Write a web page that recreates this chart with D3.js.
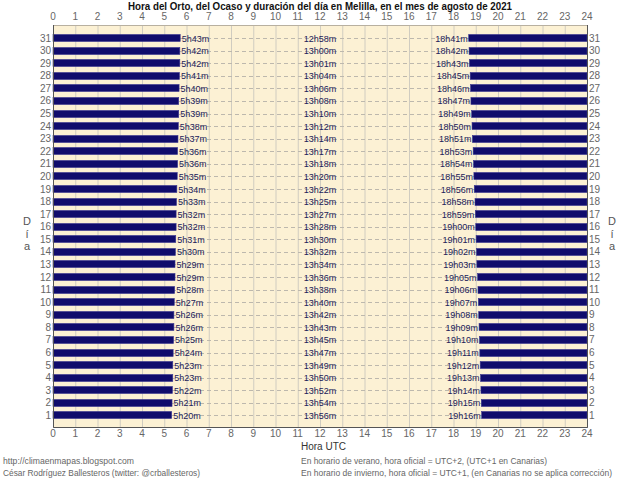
<!DOCTYPE html>
<html>
<head>
<meta charset="utf-8">
<script src="https://cdn.jsdelivr.net/npm/d3@7"></script>
<style>
  body { margin: 0; background: #fff; }
  text { font-family: "Liberation Sans", Arial, sans-serif; }
</style>
</head>
<body>
<svg id="chart"></svg>
<script>
// day 1..31 of August 2021, Melilla
const days = d3.range(1, 32);
const orto = ["5h20m","5h21m","5h22m","5h23m","5h23m","5h24m","5h25m","5h26m","5h26m","5h27m",
  "5h28m","5h29m","5h29m","5h30m","5h31m","5h32m","5h32m","5h33m","5h34m","5h35m",
  "5h36m","5h36m","5h37m","5h38m","5h39m","5h39m","5h40m","5h41m","5h42m","5h42m","5h43m"];
const duracion = ["13h56m","13h54m","13h52m","13h50m","13h49m","13h47m","13h45m","13h43m","13h42m","13h40m",
  "13h38m","13h36m","13h34m","13h32m","13h30m","13h28m","13h27m","13h25m","13h22m","13h20m",
  "13h18m","13h17m","13h14m","13h12m","13h10m","13h08m","13h06m","13h04m","13h01m","13h00m","12h58m"];
const ocaso = ["19h16m","19h15m","19h14m","19h13m","19h12m","19h11m","19h10m","19h09m","19h08m","19h07m",
  "19h06m","19h05m","19h03m","19h02m","19h01m","19h00m","18h59m","18h58m","18h56m","18h55m",
  "18h54m","18h53m","18h51m","18h50m","18h49m","18h47m","18h46m","18h45m","18h43m","18h42m","18h41m"];
const hourTicks = d3.range(0, 25);

const toHours = s => { const m = s.match(/(\d+)h(\d+)m/); return +m[1] + +m[2] / 60; };

const width = 640, height = 479;
const pl = 53, pr = 587, pt = 25, pb = 427;

const svg = d3.select("#chart").attr("width", width).attr("height", height);

const x = d3.scaleLinear().domain([0, 24]).range([pl, pr]);
const y = d3.scaleLinear().domain([0, 32]).range([pb + 1, pt + 0.5]);

const navy = "#100c6c";
const labelColor = "#22225a";
const tickColor = "#666";

// plot background
svg.append("rect")
  .attr("x", pl).attr("y", pt)
  .attr("width", pr - pl).attr("height", pb - pt)
  .attr("fill", "#fcf1d4");

// vertical grid
svg.append("g").selectAll("line").data(hourTicks.slice(1, -1)).join("line")
  .attr("x1", d => x(d) + 0.5).attr("x2", d => x(d) + 0.5)
  .attr("y1", pt).attr("y2", pb)
  .attr("stroke", "#d0ccc0").attr("stroke-width", 1);

// horizontal dashed grid
svg.append("g").selectAll("line").data(days).join("line")
  .attr("x1", pl).attr("x2", pr)
  .attr("y1", d => Math.round(y(d)) + 0.5).attr("y2", d => Math.round(y(d)) + 0.5)
  .attr("stroke", "#bdb8ad").attr("stroke-dasharray", "4,3");

const rows = days.map((d, i) => ({
  day: d, orto: orto[i], dur: duracion[i], ocaso: ocaso[i],
  sr: toHours(orto[i]), ss: toHours(ocaso[i])
}));

const barH = 7;
// sunrise bars (from 0 to orto)
svg.append("g").selectAll("rect").data(rows).join("rect")
  .attr("x", x(0)).attr("y", d => Math.round(y(d.day)) - barH / 2)
  .attr("width", d => x(d.sr) - x(0)).attr("height", barH)
  .attr("fill", navy).attr("stroke", "#3a3690").attr("stroke-width", 0.6);
// sunset bars (from ocaso to 24)
svg.append("g").selectAll("rect").data(rows).join("rect")
  .attr("x", d => x(d.ss)).attr("y", d => Math.round(y(d.day)) - barH / 2)
  .attr("width", d => x(24) - x(d.ss)).attr("height", barH)
  .attr("fill", navy).attr("stroke", "#3a3690").attr("stroke-width", 0.6);

const fs = "9px";
const labels = svg.append("g").attr("font-size", fs).attr("fill", labelColor);
labels.selectAll(".sr").data(rows).join("text")
  .attr("x", d => x(d.sr) + 1.5).attr("y", d => y(d.day) + 3.5)
  .text(d => d.orto);
labels.selectAll(".du").data(rows).join("text")
  .attr("x", x(12)).attr("y", d => y(d.day) + 3.5)
  .attr("text-anchor", "middle")
  .text(d => d.dur);
labels.selectAll(".ss").data(rows).join("text")
  .attr("x", d => x(d.ss) - 1).attr("y", d => y(d.day) + 3.5)
  .attr("text-anchor", "end")
  .text(d => d.ocaso);

// frame
svg.append("rect")
  .attr("x", pl + 0.5).attr("y", pt + 0.5)
  .attr("width", pr - pl).attr("height", pb - pt)
  .attr("fill", "none").attr("stroke", "#b8b0a0");
svg.append("path")
  .attr("d", `M${pl + 0.5},${pt} V${pb + 0.5} H${pr + 0.5} V${pt}`)
  .attr("fill", "none").attr("stroke", "#555");

// hour tick labels top & bottom
const axisG = svg.append("g").attr("font-size", "10px").attr("fill", tickColor).attr("text-anchor", "middle");
axisG.selectAll(".t").data(hourTicks).join("text")
  .attr("x", d => x(d)).attr("y", 20).text(d => d);
axisG.selectAll(".b").data(hourTicks).join("text")
  .attr("x", d => x(d)).attr("y", 437).text(d => d);

// day labels left & right
const dayG = svg.append("g").attr("font-size", "10px").attr("fill", tickColor);
dayG.selectAll(".l").data(days).join("text")
  .attr("x", 51).attr("y", d => y(d) + 3.5).attr("text-anchor", "end").text(d => d);
dayG.selectAll(".r").data(days).join("text")
  .attr("x", 589).attr("y", d => y(d) + 3.5).text(d => d);

// "Día" stacked letters
const diaLetters = ["D", "í", "a"];
[27, 612].forEach(cx => {
  svg.append("g").attr("font-size", "11px").attr("fill", "#555").attr("text-anchor", "middle")
    .selectAll("text").data(diaLetters).join("text")
    .attr("x", cx).attr("y", (d, i) => 225 + i * 12.5).text(d => d);
});

// title
svg.append("text")
  .attr("x", 128).attr("y", 10)
  .attr("font-size", "10px").attr("font-weight", "bold").attr("fill", "#111")
  .attr("textLength", 384).attr("lengthAdjust", "spacingAndGlyphs")
  .text("Hora del Orto, del Ocaso y duración del día en Melilla, en el mes de agosto de 2021");

// footer
svg.append("text").attr("x", 301).attr("y", 450)
  .attr("font-size", "10px").attr("fill", "#333").text("Hora UTC");
const foot = svg.append("g").attr("font-size", "9px").attr("fill", "#666");
foot.append("text").attr("x", 301).attr("y", 464)
  .attr("textLength", 246).attr("lengthAdjust", "spacingAndGlyphs")
  .text("En horario de verano, hora oficial = UTC+2, (UTC+1 en Canarias)");
foot.append("text").attr("x", 301).attr("y", 476)
  .attr("textLength", 311).attr("lengthAdjust", "spacingAndGlyphs")
  .text("En horario de invierno, hora oficial = UTC+1, (en Canarias no se aplica corrección)");
foot.append("text").attr("x", 3).attr("y", 464)
  .attr("textLength", 131).attr("lengthAdjust", "spacingAndGlyphs")
  .text("http://climaenmapas.blogspot.com");
foot.append("text").attr("x", 3).attr("y", 476)
  .attr("textLength", 197).attr("lengthAdjust", "spacingAndGlyphs")
  .text("César Rodríguez Ballesteros (twitter: @crballesteros)");
</script>
</body>
</html>
